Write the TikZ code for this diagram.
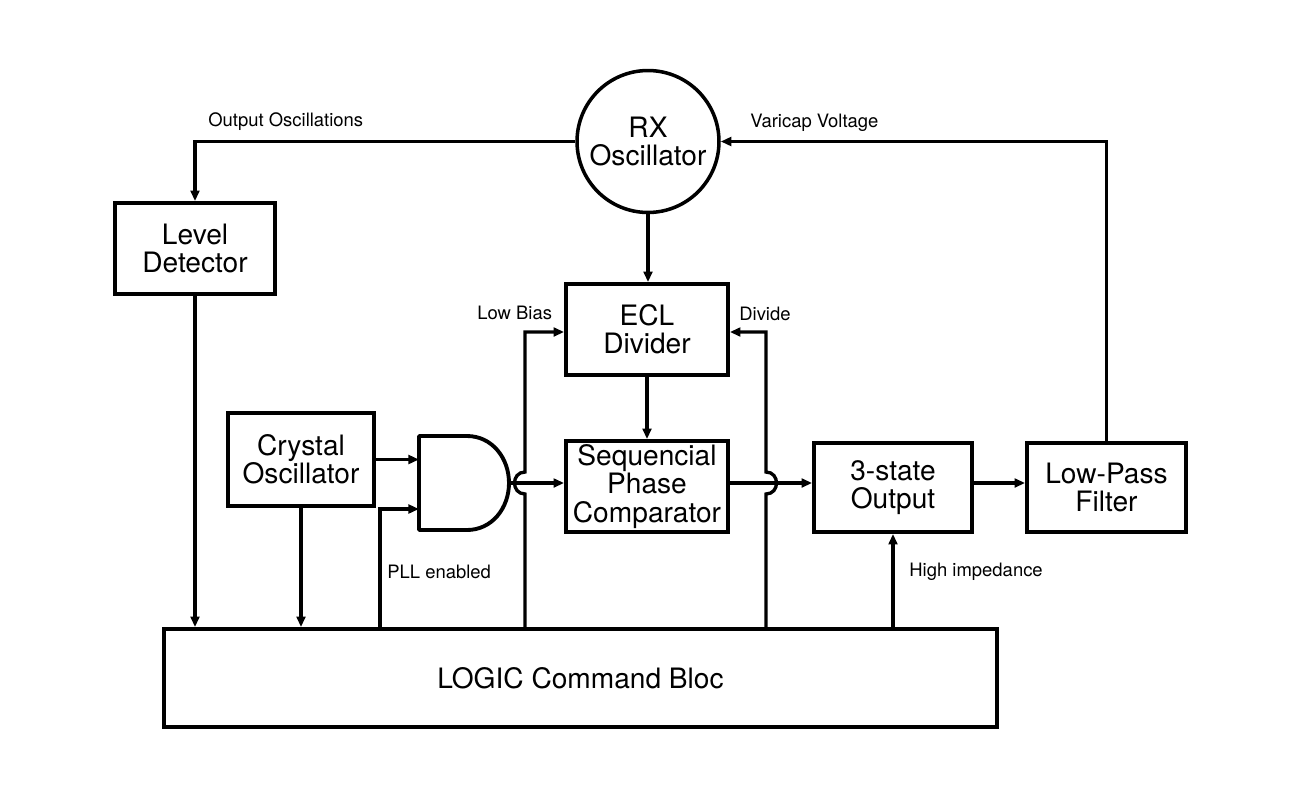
\documentclass[tikz,border=0pt]{standalone}
\usepackage{fontspec}
\setmainfont{TeX Gyre Heros}
\usetikzlibrary{arrows.meta}
\begin{document}
\begin{tikzpicture}[x=0.02cm,y=-0.02cm,
  blk/.style={draw,line width=2.2pt,align=center,inner sep=0pt,
    font=\fontsize{16}{16}\selectfont},
  circ/.style={draw,circle,line width=2pt,align=center,inner sep=0pt,
    minimum size=2.84cm,font=\fontsize{16}{16}\selectfont},
  conn/.style={line width=1.9pt},
  arr/.style={conn,-{Triangle[length=6pt,width=5pt]}},
  lbl/.style={anchor=west,inner sep=0pt,font=\fontsize{10.5}{11}\selectfont},
  gatestyle/.style={line width=2.2pt,line join=round}]
\useasboundingbox (0,0) rectangle (1295,792);

% blocks
\node[circ] (rx) at (648,141.5) {RX\\Oscillator};
\node[blk,minimum width=3.2cm,minimum height=1.82cm] (lvl) at (195,248.5) {Level\\Detector};
\node[blk,minimum width=2.92cm,minimum height=1.86cm] (xtal) at (301,459.5) {Crystal\\Oscillator};
\node[blk,minimum width=3.24cm,minimum height=1.82cm] (ecl) at (647,329.5) {ECL\\Divider};
\node[blk,minimum width=3.24cm,minimum height=1.82cm] (spc) at (647,486.5) {Sequencial\\Phase\\Comparator};
\node[blk,minimum width=3.16cm,minimum height=1.78cm] (tri) at (893,487.5) {3-state\\Output};
\node[blk,minimum width=3.18cm,minimum height=1.78cm] (lpf) at (1106.5,487.5) {Low-Pass\\Filter};
\node[blk,minimum width=16.66cm,minimum height=1.96cm] (logic) at (580.5,678) {LOGIC Command Bloc};

% AND gate
\draw[gatestyle] (419,436) -- (467,436) .. controls (492,436) and (509,458) .. (509,483)
  .. controls (509,508) and (492,530) .. (467,530) -- (419,530) -- cycle;
\coordinate (g1) at (419,459.5);
\coordinate (g2) at (419,509);
\coordinate (gout) at (509,483);
\coordinate (sig) at (0,483);
\coordinate (pllb) at (380,628);
\coordinate (lbb) at (525,628);
\coordinate (dvb) at (766,628);

% connectors
\draw[arr] (rx.west) -| (lvl.north);
\draw[arr] (lvl.south) -- (lvl.south |- logic.north);
\draw[arr] (xtal.south) -- (xtal.south |- logic.north);
\draw[arr] (xtal.east) -- (g1);
\draw[arr] (pllb) |- (g2);
\draw[arr] (gout) -- (gout -| spc.west);
\draw[arr] (rx.south) -- (rx.south |- ecl.north);
\draw[arr] (ecl.south) -- (spc.north);
\draw[arr] (lbb) -- (525,494) .. controls (511,494) and (511,472) .. (525,472)
  -- (525,332) -- (ecl.west |- 0,332);
\draw[arr] (dvb) -- (766,494) .. controls (780,494) and (780,472) .. (766,472)
  -- (766,332) -- (ecl.east |- 0,332);
\draw[arr] (spc.east |- sig) -- (tri.west |- sig);
\draw[arr] (tri.east |- sig) -- (lpf.west |- sig);
\draw[arr] (lpf.north) |- (rx.east);
\draw[arr] (tri.south |- logic.north) -- (tri.south);

% labels
\node[lbl] (l1) at (208,122) {Output Oscillations};
\node[lbl] (l2) at (750,123) {Varicap Voltage};
\node[lbl] (l3) at (477,313) {Low Bias};
\node[lbl] (l4) at (739,314) {Divide};
\node[lbl] (l5) at (387,572) {PLL enabled};
\node[lbl] (l6) at (909,572) {High impedance};
\end{tikzpicture}
\end{document}
